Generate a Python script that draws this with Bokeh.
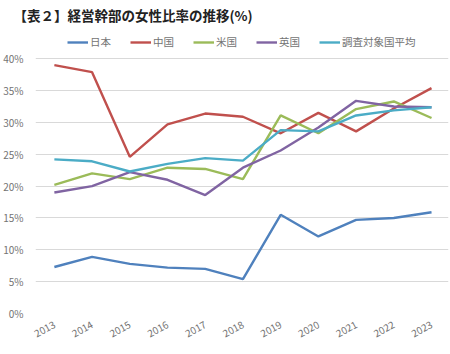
from bokeh.plotting import figure
from bokeh.models import Legend, LegendItem, Range1d, FixedTicker, CustomJSTickFormatter
from bokeh.embed import file_html
from bokeh.resources import INLINE

years = [2013, 2014, 2015, 2016, 2017, 2018, 2019, 2020, 2021, 2022, 2023]
japan = [7.3, 8.9, 7.8, 7.2, 7.0, 5.4, 15.5, 12.1, 14.7, 15.0, 15.9]
china = [39.0, 37.9, 24.6, 29.7, 31.4, 30.9, 28.3, 31.5, 28.6, 32.2, 35.4]
usa = [20.2, 22.0, 21.1, 22.9, 22.7, 21.1, 31.1, 28.3, 32.1, 33.3, 30.7]
uk = [19.0, 20.0, 22.2, 21.0, 18.6, 22.9, 25.6, 29.2, 33.4, 32.5, 32.4]
avg = [24.2, 23.9, 22.3, 23.5, 24.4, 24.0, 28.8, 28.6, 31.1, 31.9, 32.4]

series_names = ["日本", "中国", "米国", "英国", "調査対象国平均"]
series_values = [japan, china, usa, uk, avg]
colors = ["#4F81BD", "#C0504D", "#9BBB59", "#8064A2", "#4BACC6"]
y_ticks = [0, 5, 10, 15, 20, 25, 30, 35, 40]
title_text = "【表２】経営幹部の女性比率の推移(%)"

FONT = "Noto Sans CJK JP"
TXT = "#737373"

p = figure(width=450, height=354, output_backend="svg", toolbar_location=None,
           x_range=Range1d(2012.5, 2023.45), y_range=Range1d(0, 45.07),
           min_border_left=34, min_border_right=2, min_border_bottom=41,
           min_border_top=26,
           title=title_text)
p.outline_line_color = None
p.background_fill_color = "white"
p.border_fill_color = "white"
p.title.text_font = FONT
p.title.text_font_size = "13.5px"
p.title.text_font_style = "bold"
p.title.text_color = "#222222"
p.title.align = "left"
p.title.offset = -22
p.title.standoff = 3

renderers = []
for name, vals, c in zip(series_names, series_values, colors):
    r = p.line(years, vals, line_color=c, line_width=2.4)
    renderers.append((name, r))

p.xaxis.ticker = FixedTicker(ticks=years)
p.yaxis.ticker = FixedTicker(ticks=y_ticks)
p.yaxis.formatter = CustomJSTickFormatter(code="return tick + '%';")
for ax in (p.xaxis[0], p.yaxis[0]):
    ax.axis_line_color = None
    ax.major_tick_line_color = None
    ax.minor_tick_line_color = None
    ax.major_label_text_color = TXT
    ax.major_label_text_font = FONT
    ax.major_label_text_font_size = "10px"
p.xaxis.major_label_orientation = 0.5
p.xaxis.major_label_standoff = 4
p.yaxis.major_label_standoff = 6

p.xgrid.grid_line_color = None
p.ygrid.grid_line_color = "#D9D9D9"
p.ygrid.grid_line_width = 1

legend = Legend(items=[LegendItem(label=n, renderers=[r]) for n, r in renderers],
                orientation="horizontal", location=(32, 264),
                label_text_font=FONT, label_text_font_size="10.5px",
                label_text_color=TXT, glyph_width=21, glyph_height=10,
                spacing=19, padding=2, margin=0, border_line_color=None,
                label_standoff=2, background_fill_alpha=0)
p.add_layout(legend, "center")

open("out.html", "w").write(file_html(p, INLINE))
